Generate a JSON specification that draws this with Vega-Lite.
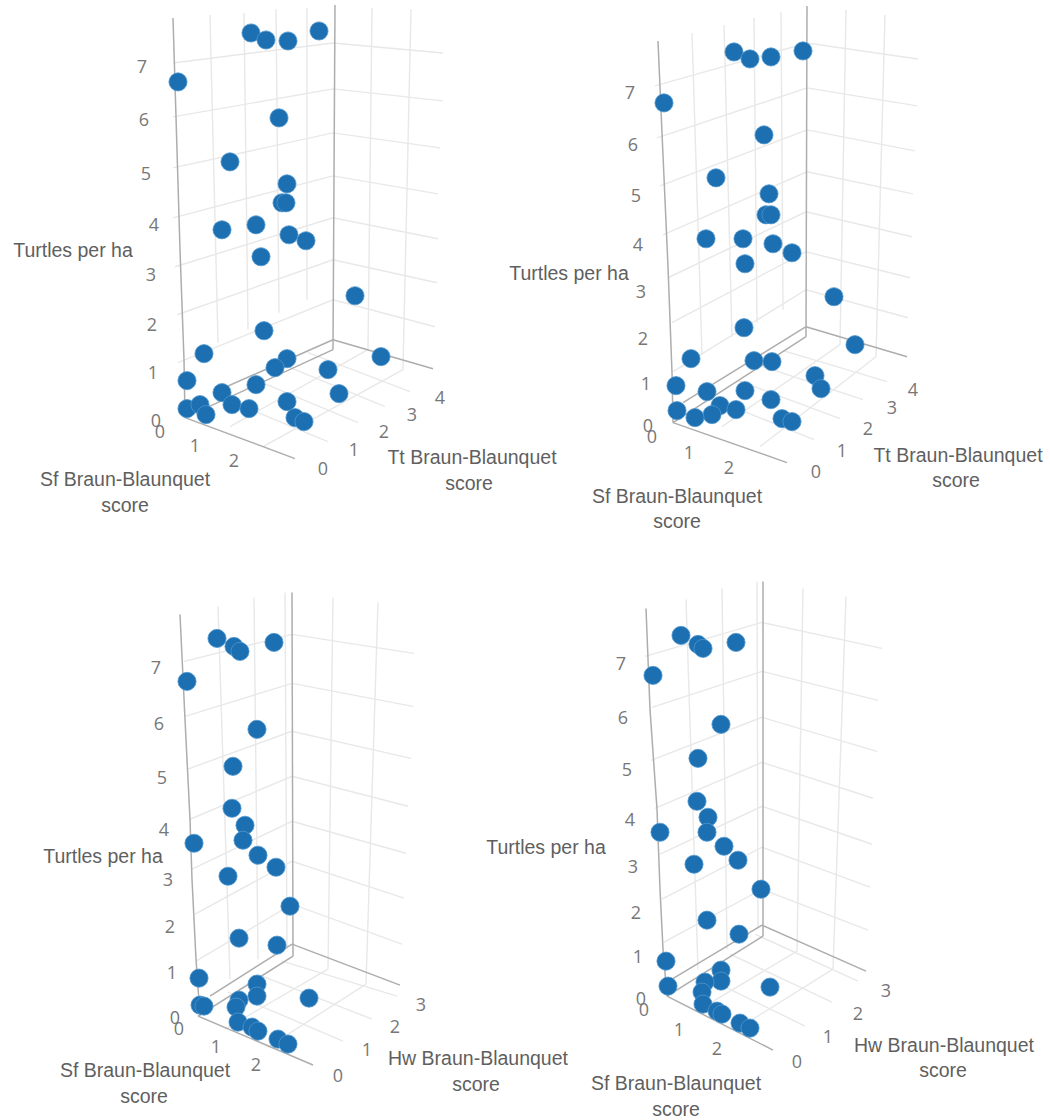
{"$schema":"https://vega.github.io/schema/vega-lite/v6.json","width":1050,"height":1120,"autosize":{"type":"fit","contains":"padding"},"padding":0,"background":"white","config":{"view":{"stroke":null}},
"datasets":{
"points":[
{"panel":"Tt1","sx":251,"sy":33},{"panel":"Tt1","sx":266,"sy":40},{"panel":"Tt1","sx":288,"sy":41},{"panel":"Tt1","sx":319,"sy":31},{"panel":"Tt1","sx":178,"sy":82},{"panel":"Tt1","sx":279,"sy":118},{"panel":"Tt1","sx":230,"sy":162},{"panel":"Tt1","sx":287,"sy":184},{"panel":"Tt1","sx":282,"sy":203},{"panel":"Tt1","sx":286,"sy":203},{"panel":"Tt1","sx":256,"sy":225},{"panel":"Tt1","sx":222,"sy":230},{"panel":"Tt1","sx":289,"sy":235},{"panel":"Tt1","sx":306,"sy":241},{"panel":"Tt1","sx":261,"sy":257},{"panel":"Tt1","sx":355,"sy":296},{"panel":"Tt1","sx":264,"sy":331},{"panel":"Tt1","sx":204,"sy":354},{"panel":"Tt1","sx":187,"sy":381},{"panel":"Tt1","sx":287,"sy":359},{"panel":"Tt1","sx":275,"sy":368},{"panel":"Tt1","sx":256,"sy":385},{"panel":"Tt1","sx":328,"sy":370},{"panel":"Tt1","sx":381,"sy":357},{"panel":"Tt1","sx":339,"sy":394},{"panel":"Tt1","sx":222,"sy":393},{"panel":"Tt1","sx":232,"sy":405},{"panel":"Tt1","sx":249,"sy":409},{"panel":"Tt1","sx":287,"sy":402},{"panel":"Tt1","sx":295,"sy":418},{"panel":"Tt1","sx":304,"sy":422},{"panel":"Tt1","sx":187,"sy":409},{"panel":"Tt1","sx":200,"sy":405},{"panel":"Tt1","sx":206,"sy":415},
{"panel":"Tt2","sx":734,"sy":52},{"panel":"Tt2","sx":750,"sy":59},{"panel":"Tt2","sx":771,"sy":57},{"panel":"Tt2","sx":803,"sy":51},{"panel":"Tt2","sx":664,"sy":103},{"panel":"Tt2","sx":764,"sy":135},{"panel":"Tt2","sx":716,"sy":178},{"panel":"Tt2","sx":769,"sy":194},{"panel":"Tt2","sx":766,"sy":215},{"panel":"Tt2","sx":771,"sy":215},{"panel":"Tt2","sx":743,"sy":239},{"panel":"Tt2","sx":706,"sy":239},{"panel":"Tt2","sx":773,"sy":244},{"panel":"Tt2","sx":792,"sy":253},{"panel":"Tt2","sx":745,"sy":264},{"panel":"Tt2","sx":834,"sy":297},{"panel":"Tt2","sx":744,"sy":328},{"panel":"Tt2","sx":691,"sy":359},{"panel":"Tt2","sx":676,"sy":386},{"panel":"Tt2","sx":754,"sy":361},{"panel":"Tt2","sx":772,"sy":362},{"panel":"Tt2","sx":745,"sy":391},{"panel":"Tt2","sx":815,"sy":376},{"panel":"Tt2","sx":821,"sy":389},{"panel":"Tt2","sx":855,"sy":345},{"panel":"Tt2","sx":707,"sy":392},{"panel":"Tt2","sx":720,"sy":406},{"panel":"Tt2","sx":712,"sy":415},{"panel":"Tt2","sx":695,"sy":418},{"panel":"Tt2","sx":677,"sy":411},{"panel":"Tt2","sx":736,"sy":410},{"panel":"Tt2","sx":771,"sy":400},{"panel":"Tt2","sx":782,"sy":419},{"panel":"Tt2","sx":792,"sy":422},
{"panel":"Hw1","sx":217,"sy":639},{"panel":"Hw1","sx":234,"sy":647},{"panel":"Hw1","sx":240,"sy":652},{"panel":"Hw1","sx":274,"sy":643},{"panel":"Hw1","sx":187,"sy":682},{"panel":"Hw1","sx":257,"sy":730},{"panel":"Hw1","sx":233,"sy":767},{"panel":"Hw1","sx":232,"sy":809},{"panel":"Hw1","sx":245,"sy":826},{"panel":"Hw1","sx":243,"sy":841},{"panel":"Hw1","sx":194,"sy":844},{"panel":"Hw1","sx":258,"sy":856},{"panel":"Hw1","sx":276,"sy":868},{"panel":"Hw1","sx":228,"sy":877},{"panel":"Hw1","sx":290,"sy":907},{"panel":"Hw1","sx":239,"sy":939},{"panel":"Hw1","sx":277,"sy":946},{"panel":"Hw1","sx":199,"sy":979},{"panel":"Hw1","sx":257,"sy":985},{"panel":"Hw1","sx":257,"sy":997},{"panel":"Hw1","sx":239,"sy":1001},{"panel":"Hw1","sx":236,"sy":1008},{"panel":"Hw1","sx":309,"sy":999},{"panel":"Hw1","sx":200,"sy":1006},{"panel":"Hw1","sx":204,"sy":1007},{"panel":"Hw1","sx":238,"sy":1023},{"panel":"Hw1","sx":252,"sy":1028},{"panel":"Hw1","sx":258,"sy":1032},{"panel":"Hw1","sx":278,"sy":1040},{"panel":"Hw1","sx":288,"sy":1045},
{"panel":"Hw2","sx":681,"sy":636},{"panel":"Hw2","sx":698,"sy":645},{"panel":"Hw2","sx":703,"sy":649},{"panel":"Hw2","sx":736,"sy":643},{"panel":"Hw2","sx":653,"sy":676},{"panel":"Hw2","sx":721,"sy":725},{"panel":"Hw2","sx":698,"sy":759},{"panel":"Hw2","sx":697,"sy":802},{"panel":"Hw2","sx":708,"sy":818},{"panel":"Hw2","sx":707,"sy":833},{"panel":"Hw2","sx":660,"sy":833},{"panel":"Hw2","sx":724,"sy":847},{"panel":"Hw2","sx":738,"sy":861},{"panel":"Hw2","sx":694,"sy":865},{"panel":"Hw2","sx":761,"sy":890},{"panel":"Hw2","sx":707,"sy":921},{"panel":"Hw2","sx":739,"sy":935},{"panel":"Hw2","sx":666,"sy":962},{"panel":"Hw2","sx":668,"sy":987},{"panel":"Hw2","sx":721,"sy":971},{"panel":"Hw2","sx":721,"sy":982},{"panel":"Hw2","sx":705,"sy":983},{"panel":"Hw2","sx":702,"sy":993},{"panel":"Hw2","sx":770,"sy":988},{"panel":"Hw2","sx":703,"sy":1005},{"panel":"Hw2","sx":717,"sy":1012},{"panel":"Hw2","sx":722,"sy":1015},{"panel":"Hw2","sx":740,"sy":1024},{"panel":"Hw2","sx":750,"sy":1029}
],
"grid":[
{"line":"a7","sx":173,"sy":63},{"line":"a7","sx":333,"sy":43},{"line":"a7","sx":443,"sy":53},
{"line":"a6","sx":173,"sy":117},{"line":"a6","sx":333,"sy":89},{"line":"a6","sx":443,"sy":101},
{"line":"a5","sx":173,"sy":168},{"line":"a5","sx":333,"sy":133},{"line":"a5","sx":440,"sy":148},
{"line":"a4","sx":173,"sy":218},{"line":"a4","sx":333,"sy":176},{"line":"a4","sx":438,"sy":194},
{"line":"a3","sx":175,"sy":267},{"line":"a3","sx":333,"sy":218},{"line":"a3","sx":438,"sy":239},
{"line":"a2","sx":177,"sy":315},{"line":"a2","sx":333,"sy":260},{"line":"a2","sx":437,"sy":283},
{"line":"a1","sx":178,"sy":363},{"line":"a1","sx":333,"sy":300},{"line":"a1","sx":435,"sy":327},
{"line":"av1","sx":210,"sy":15},{"line":"av1","sx":218,"sy":343},{"line":"av2","sx":244,"sy":13},{"line":"av2","sx":248,"sy":330},{"line":"av3","sx":276,"sy":9},{"line":"av3","sx":279,"sy":313},{"line":"av4","sx":307,"sy":8},{"line":"av4","sx":307,"sy":300},{"line":"av5","sx":372,"sy":8},{"line":"av5","sx":368,"sy":350},{"line":"av6","sx":411,"sy":9},{"line":"av6","sx":403,"sy":370},
{"line":"af1","sx":230,"sy":427},{"line":"af1","sx":368,"sy":350},{"line":"af2","sx":263,"sy":447},{"line":"af2","sx":403,"sy":370},
{"line":"at1","sx":222,"sy":398},{"line":"at1","sx":328,"sy":442},{"line":"at2","sx":255,"sy":380},{"line":"at2","sx":358,"sy":423},{"line":"at3","sx":283,"sy":365},{"line":"at3","sx":385,"sy":407},{"line":"at4","sx":308,"sy":353},{"line":"at4","sx":410,"sy":392},
{"line":"b7","sx":655,"sy":86},{"line":"b7","sx":807,"sy":43},{"line":"b7","sx":918,"sy":59},
{"line":"b6","sx":657,"sy":138},{"line":"b6","sx":807,"sy":88},{"line":"b6","sx":917,"sy":106},
{"line":"b5","sx":660,"sy":186},{"line":"b5","sx":807,"sy":130},{"line":"b5","sx":915,"sy":151},
{"line":"b4","sx":663,"sy":235},{"line":"b4","sx":807,"sy":172},{"line":"b4","sx":913,"sy":194},
{"line":"b3","sx":668,"sy":278},{"line":"b3","sx":806,"sy":212},{"line":"b3","sx":912,"sy":237},
{"line":"b2","sx":672,"sy":323},{"line":"b2","sx":806,"sy":252},{"line":"b2","sx":910,"sy":278},
{"line":"b1","sx":673,"sy":372},{"line":"b1","sx":806,"sy":290},{"line":"b1","sx":908,"sy":318},
{"line":"bv1","sx":692,"sy":33},{"line":"bv1","sx":702,"sy":355},{"line":"bv2","sx":724,"sy":25},{"line":"bv2","sx":732,"sy":337},{"line":"bv3","sx":754,"sy":18},{"line":"bv3","sx":757,"sy":323},{"line":"bv4","sx":781,"sy":12},{"line":"bv4","sx":783,"sy":310},{"line":"bv5","sx":846,"sy":10},{"line":"bv5","sx":840,"sy":345},{"line":"bv6","sx":885,"sy":15},{"line":"bv6","sx":876,"sy":357},
{"line":"bf1","sx":722,"sy":427},{"line":"bf1","sx":840,"sy":345},{"line":"bf2","sx":760,"sy":447},{"line":"bf2","sx":876,"sy":357},
{"line":"bt1","sx":710,"sy":398},{"line":"bt1","sx":814,"sy":440},{"line":"bt2","sx":738,"sy":381},{"line":"bt2","sx":840,"sy":419},{"line":"bt3","sx":760,"sy":366},{"line":"bt3","sx":863,"sy":400},{"line":"bt4","sx":783,"sy":351},{"line":"bt4","sx":887,"sy":382},
{"line":"c7","sx":184,"sy":662},{"line":"c7","sx":292,"sy":635},{"line":"c7","sx":414,"sy":654},
{"line":"c6","sx":185,"sy":717},{"line":"c6","sx":292,"sy":684},{"line":"c6","sx":413,"sy":707},
{"line":"c5","sx":187,"sy":770},{"line":"c5","sx":292,"sy":732},{"line":"c5","sx":411,"sy":759},
{"line":"c4","sx":190,"sy":820},{"line":"c4","sx":292,"sy":777},{"line":"c4","sx":408,"sy":807},
{"line":"c3","sx":192,"sy":870},{"line":"c3","sx":292,"sy":822},{"line":"c3","sx":406,"sy":854},
{"line":"c2","sx":195,"sy":915},{"line":"c2","sx":292,"sy":862},{"line":"c2","sx":404,"sy":899},
{"line":"c1","sx":196,"sy":962},{"line":"c1","sx":292,"sy":905},{"line":"c1","sx":402,"sy":945},
{"line":"cv1","sx":218,"sy":607},{"line":"cv1","sx":230,"sy":980},{"line":"cv2","sx":254,"sy":598},{"line":"cv2","sx":258,"sy":960},{"line":"cv3","sx":285,"sy":593},{"line":"cv3","sx":287,"sy":950},{"line":"cv4","sx":333,"sy":598},{"line":"cv4","sx":328,"sy":970},{"line":"cv5","sx":378,"sy":603},{"line":"cv5","sx":366,"sy":985},
{"line":"cf1","sx":225,"sy":1030},{"line":"cf1","sx":328,"sy":970},{"line":"cf2","sx":268,"sy":1048},{"line":"cf2","sx":366,"sy":985},
{"line":"ct1","sx":228,"sy":993},{"line":"ct1","sx":343,"sy":1042},{"line":"ct2","sx":257,"sy":975},{"line":"ct2","sx":372,"sy":1020},{"line":"ct3","sx":282,"sy":962},{"line":"ct3","sx":397,"sy":997},
{"line":"d7","sx":645,"sy":657},{"line":"d7","sx":762,"sy":623},{"line":"d7","sx":882,"sy":649},
{"line":"d6","sx":652,"sy":708},{"line":"d6","sx":762,"sy":672},{"line":"d6","sx":878,"sy":701},
{"line":"d5","sx":651,"sy":761},{"line":"d5","sx":762,"sy":718},{"line":"d5","sx":877,"sy":752},
{"line":"d4","sx":655,"sy":809},{"line":"d4","sx":762,"sy":763},{"line":"d4","sx":873,"sy":799},
{"line":"d3","sx":660,"sy":855},{"line":"d3","sx":762,"sy":807},{"line":"d3","sx":872,"sy":845},
{"line":"d2","sx":662,"sy":900},{"line":"d2","sx":762,"sy":848},{"line":"d2","sx":870,"sy":888},
{"line":"d1","sx":664,"sy":943},{"line":"d1","sx":762,"sy":890},{"line":"d1","sx":868,"sy":931},
{"line":"dv1","sx":686,"sy":600},{"line":"dv1","sx":698,"sy":970},{"line":"dv2","sx":722,"sy":589},{"line":"dv2","sx":727,"sy":950},{"line":"dv3","sx":757,"sy":582},{"line":"dv3","sx":758,"sy":930},{"line":"dv4","sx":803,"sy":589},{"line":"dv4","sx":797,"sy":952},{"line":"dv5","sx":846,"sy":597},{"line":"dv5","sx":833,"sy":970},
{"line":"df1","sx":700,"sy":1010},{"line":"df1","sx":797,"sy":952},{"line":"df2","sx":737,"sy":1030},{"line":"df2","sx":833,"sy":970},
{"line":"dt1","sx":699,"sy":975},{"line":"dt1","sx":805,"sy":1027},{"line":"dt2","sx":730,"sy":955},{"line":"dt2","sx":832,"sy":1003},{"line":"dt3","sx":755,"sy":935},{"line":"dt3","sx":858,"sy":982}
],
"axes":[
{"line":"az","sx":173,"sy":18},{"line":"az","sx":176,"sy":117},{"line":"az","sx":180,"sy":250},{"line":"az","sx":184,"sy":360},{"line":"az","sx":185,"sy":418},
{"line":"ac","sx":335,"sy":5},{"line":"ac","sx":333,"sy":350},
{"line":"a1f","sx":213,"sy":393},{"line":"a1f","sx":333,"sy":340},{"line":"a2f","sx":185,"sy":418},{"line":"a2f","sx":333,"sy":350},{"line":"a3f","sx":333,"sy":340},{"line":"a3f","sx":433,"sy":369},{"line":"a4f","sx":185,"sy":418},{"line":"a4f","sx":295,"sy":459},
{"line":"bz","sx":658,"sy":41},{"line":"bz","sx":662,"sy":133},{"line":"bz","sx":668,"sy":267},{"line":"bz","sx":672,"sy":373},{"line":"bz","sx":673,"sy":423},
{"line":"bc","sx":807,"sy":6},{"line":"bc","sx":806,"sy":337},
{"line":"b1f","sx":683,"sy":403},{"line":"b1f","sx":806,"sy":327},{"line":"b2f","sx":673,"sy":423},{"line":"b2f","sx":806,"sy":337},{"line":"b3f","sx":806,"sy":327},{"line":"b3f","sx":907,"sy":357},{"line":"b4f","sx":673,"sy":423},{"line":"b4f","sx":787,"sy":463},
{"line":"cz","sx":180,"sy":615},{"line":"cz","sx":185,"sy":720},{"line":"cz","sx":190,"sy":820},{"line":"cz","sx":192,"sy":880},{"line":"cz","sx":196,"sy":960},{"line":"cz","sx":200,"sy":1017},
{"line":"cc","sx":292,"sy":593},{"line":"cc","sx":293,"sy":957},
{"line":"c1f","sx":210,"sy":997},{"line":"c1f","sx":292,"sy":945},{"line":"c2f","sx":198,"sy":1017},{"line":"c2f","sx":293,"sy":957},{"line":"c3f","sx":292,"sy":945},{"line":"c3f","sx":400,"sy":986},{"line":"c4f","sx":198,"sy":1017},{"line":"c4f","sx":313,"sy":1066},
{"line":"dz","sx":646,"sy":609},{"line":"dz","sx":650,"sy":710},{"line":"dz","sx":657,"sy":810},{"line":"dz","sx":660,"sy":890},{"line":"dz","sx":663,"sy":950},{"line":"dz","sx":667,"sy":997},
{"line":"dc","sx":763,"sy":582},{"line":"dc","sx":763,"sy":937},
{"line":"d1f","sx":672,"sy":980},{"line":"d1f","sx":762,"sy":926},{"line":"d2f","sx":667,"sy":997},{"line":"d2f","sx":763,"sy":937},{"line":"d3f","sx":762,"sy":926},{"line":"d3f","sx":866,"sy":972},{"line":"d4f","sx":667,"sy":997},{"line":"d4f","sx":773,"sy":1051}
],
"ticks":[
{"t":"7","sx":142,"sy":68},{"t":"6","sx":144,"sy":121},{"t":"5","sx":146,"sy":175},{"t":"4","sx":154,"sy":226},{"t":"3","sx":151,"sy":276},{"t":"2","sx":152,"sy":326},{"t":"1","sx":153,"sy":374},{"t":"0","sx":156,"sy":422},{"t":"0","sx":160,"sy":433},{"t":"1","sx":195,"sy":447},{"t":"2","sx":234,"sy":462},{"t":"0","sx":323,"sy":470},{"t":"1","sx":354,"sy":451},{"t":"2","sx":384,"sy":433},{"t":"3","sx":412,"sy":416},{"t":"4","sx":440,"sy":399},
{"t":"7","sx":630,"sy":94},{"t":"6","sx":633,"sy":146},{"t":"5","sx":636,"sy":197},{"t":"4","sx":638,"sy":246},{"t":"3","sx":641,"sy":293},{"t":"2","sx":643,"sy":340},{"t":"1","sx":646,"sy":385},{"t":"0","sx":648,"sy":427},{"t":"0","sx":652,"sy":438},{"t":"1","sx":689,"sy":454},{"t":"2","sx":729,"sy":469},{"t":"0","sx":816,"sy":473},{"t":"1","sx":842,"sy":452},{"t":"2","sx":868,"sy":430},{"t":"3","sx":892,"sy":409},{"t":"4","sx":913,"sy":391},
{"t":"7","sx":156,"sy":670},{"t":"6","sx":159,"sy":726},{"t":"5","sx":162,"sy":780},{"t":"4","sx":164,"sy":832},{"t":"3","sx":168,"sy":882},{"t":"2","sx":170,"sy":929},{"t":"1","sx":172,"sy":975},{"t":"0","sx":175,"sy":1020},{"t":"0","sx":179,"sy":1031},{"t":"1","sx":216,"sy":1049},{"t":"2","sx":256,"sy":1067},{"t":"0","sx":338,"sy":1078},{"t":"1","sx":367,"sy":1052},{"t":"2","sx":395,"sy":1029},{"t":"3","sx":421,"sy":1007},
{"t":"7","sx":621,"sy":666},{"t":"6","sx":623,"sy":720},{"t":"5","sx":627,"sy":772},{"t":"4","sx":630,"sy":822},{"t":"3","sx":633,"sy":869},{"t":"2","sx":636,"sy":915},{"t":"1","sx":638,"sy":959},{"t":"0","sx":641,"sy":1001},{"t":"0","sx":644,"sy":1012},{"t":"1","sx":679,"sy":1032},{"t":"2","sx":717,"sy":1051},{"t":"0","sx":797,"sy":1064},{"t":"1","sx":828,"sy":1039},{"t":"2","sx":858,"sy":1016},{"t":"3","sx":886,"sy":993}
],
"titles":[
{"t":"Turtles per ha","sx":73,"sy":251},{"t":"Sf Braun-Blaunquet","sx":125,"sy":480},{"t":"score","sx":125,"sy":506},{"t":"Tt Braun-Blaunquet","sx":472,"sy":458},{"t":"score","sx":469,"sy":484},
{"t":"Turtles per ha","sx":569,"sy":274},{"t":"Sf Braun-Blaunquet","sx":677,"sy":497},{"t":"score","sx":677,"sy":522},{"t":"Tt Braun-Blaunquet","sx":958,"sy":456},{"t":"score","sx":956,"sy":481},
{"t":"Turtles per ha","sx":103,"sy":858},{"t":"Sf Braun-Blaunquet","sx":145,"sy":1072},{"t":"score","sx":144,"sy":1098},{"t":"Hw Braun-Blaunquet","sx":478,"sy":1060},{"t":"score","sx":476,"sy":1086},
{"t":"Turtles per ha","sx":546,"sy":849},{"t":"Sf Braun-Blaunquet","sx":676,"sy":1085},{"t":"score","sx":676,"sy":1111},{"t":"Hw Braun-Blaunquet","sx":944,"sy":1047},{"t":"score","sx":943,"sy":1072}
]
},
"encoding":{
"x":{"field":"sx","type":"quantitative","scale":{"domain":[0,1050],"nice":false,"zero":false},"axis":null},
"y":{"field":"sy","type":"quantitative","scale":{"domain":[1120,0],"nice":false,"zero":false},"axis":null}
},
"layer":[
{"data":{"name":"grid"},"mark":{"type":"line","stroke":"#e8e8e8","strokeWidth":1.4,"clip":true},"encoding":{"detail":{"field":"line"}}},
{"data":{"name":"axes"},"mark":{"type":"line","stroke":"#adadad","strokeWidth":1.5,"clip":true},"encoding":{"detail":{"field":"line"}}},
{"data":{"name":"ticks"},"mark":{"type":"text","font":"Open Sans","fontSize":18,"fill":"#777777","align":"center","baseline":"middle"},"encoding":{"text":{"field":"t"}}},
{"data":{"name":"points"},"mark":{"type":"point","shape":"circle","filled":true,"fill":"#1c6fb0","stroke":"#4f97cf","strokeWidth":0.8,"opacity":1,"size":330},"encoding":{"detail":{"field":"panel"}}},
{"data":{"name":"titles"},"mark":{"type":"text","font":"Liberation Sans","fontSize":19.5,"fill":"#5f5f5f","align":"center","baseline":"middle"},"encoding":{"text":{"field":"t"}}}
]}
